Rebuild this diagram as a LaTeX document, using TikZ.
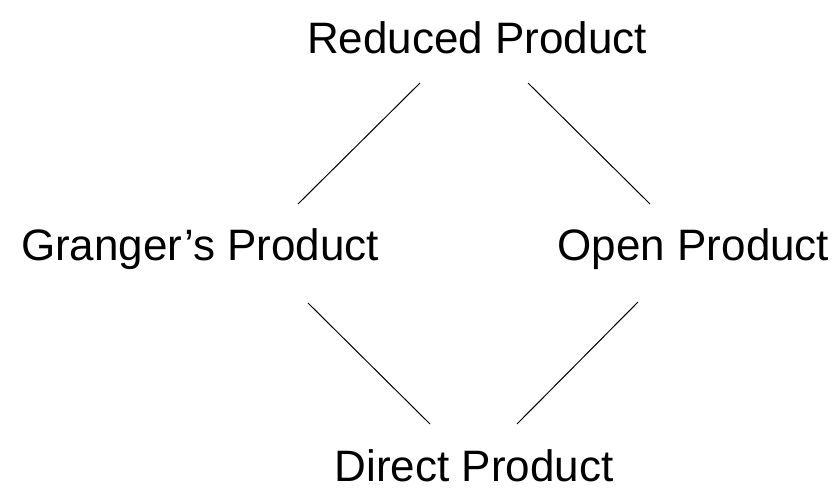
\documentclass[tikz,border=0pt]{standalone}
\usepackage{fontspec}
\setmainfont{Liberation Sans}
\begin{document}
\begin{tikzpicture}[x=1pt,y=-1pt,
  lbl/.style={anchor=base,inner sep=0pt,font=\fontsize{44}{50}\selectfont},
  edge/.style={line width=1pt,black}]
\useasboundingbox (0,0) rectangle (840,487);
\node[lbl] (rp) at (477,53) {Reduced Product};
\node[lbl] (gp) at (200,260) {Granger’s Product};
\node[lbl] (op) at (693.5,260) {Open Product};
\node[lbl,text depth=0pt] (dp) at (474,481) {Direct Product};
\coordinate (a1) at ([shift={(-57,30)}]rp.base);
\coordinate (a2) at ([shift={(98,-56)}]gp.base);
\coordinate (b1) at ([shift={(51,30)}]rp.base);
\coordinate (b2) at ([shift={(-43.5,-56)}]op.base);
\coordinate (c1) at ([shift={(108,43)}]gp.base);
\coordinate (c2) at ([shift={(-44,-57)}]dp.base);
\coordinate (d1) at ([shift={(-55.5,42)}]op.base);
\coordinate (d2) at ([shift={(43,-57)}]dp.base);
\draw[edge] (a1) -- (a2);
\draw[edge] (b1) -- (b2);
\draw[edge] (c1) -- (c2);
\draw[edge] (d1) -- (d2);
\end{tikzpicture}
\end{document}
